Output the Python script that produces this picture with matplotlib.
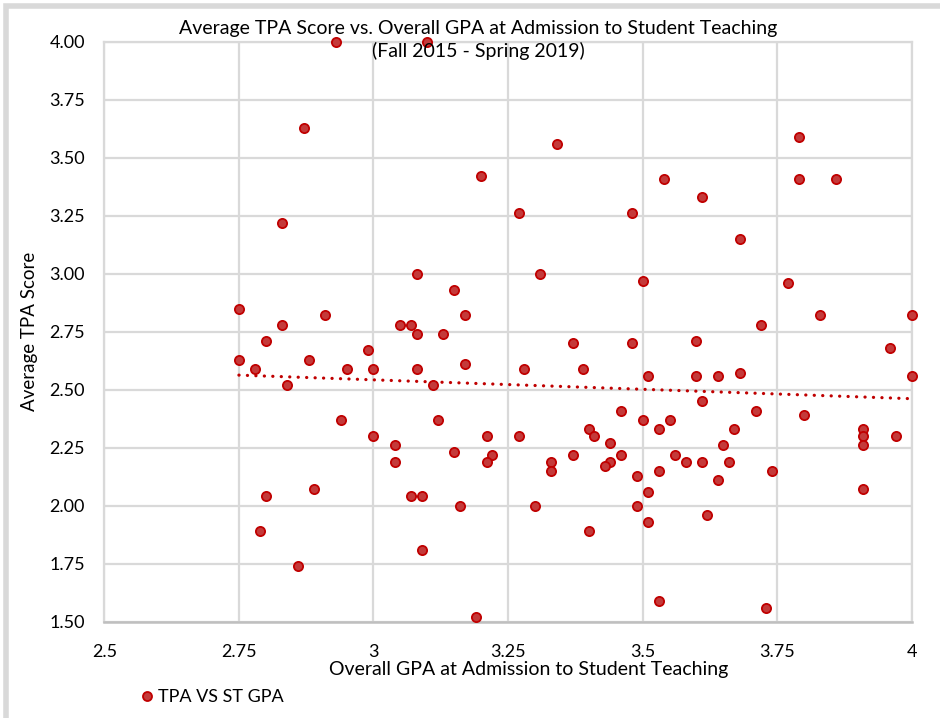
import numpy as np
import matplotlib

matplotlib.use("Agg")
import matplotlib.pyplot as plt
from matplotlib.lines import Line2D
from matplotlib.patches import Rectangle

# overall GPA at admission to student teaching vs. average TPA score
gpa = [
    2.75, 2.75, 2.78, 2.80, 2.83, 2.83, 2.87, 2.93, 3.10, 3.08,
    2.91, 3.05, 3.07, 3.08, 3.13, 2.99, 2.88, 2.95, 3.00, 3.08,
    2.84, 3.11, 2.94, 3.12, 3.00, 3.04, 3.04, 2.80, 2.89, 3.07,
    3.09, 2.79, 3.09, 2.86, 3.34, 3.20, 3.54, 3.27, 3.48, 3.31,
    3.50, 3.15, 3.17, 3.37, 3.48, 3.17, 3.28, 3.39, 3.51, 3.46,
    3.50, 3.55, 3.40, 3.53, 3.21, 3.27, 3.41, 3.44, 3.15, 3.22,
    3.37, 3.46, 3.56, 3.21, 3.33, 3.44, 3.43, 3.33, 3.58, 3.49,
    3.53, 3.51, 3.16, 3.30, 3.49, 3.51, 3.40, 3.53, 3.19, 3.79,
    3.79, 3.86, 3.61, 3.68, 3.77, 3.83, 4.00, 3.72, 3.60, 3.96,
    3.60, 3.64, 3.68, 4.00, 3.61, 3.71, 3.80, 3.67, 3.91, 3.91,
    3.97, 3.91, 3.65, 3.61, 3.66, 3.74, 3.64, 3.91, 3.62, 3.73,
]
tpa = [
    2.85, 2.63, 2.59, 2.71, 2.78, 3.22, 3.63, 4.00, 4.00, 3.00,
    2.82, 2.78, 2.78, 2.74, 2.74, 2.67, 2.63, 2.59, 2.59, 2.59,
    2.52, 2.52, 2.37, 2.37, 2.30, 2.26, 2.19, 2.04, 2.07, 2.04,
    2.04, 1.89, 1.81, 1.74, 3.56, 3.42, 3.41, 3.26, 3.26, 3.00,
    2.97, 2.93, 2.82, 2.70, 2.70, 2.61, 2.59, 2.59, 2.56, 2.41,
    2.37, 2.37, 2.33, 2.33, 2.30, 2.30, 2.30, 2.27, 2.23, 2.22,
    2.22, 2.22, 2.22, 2.19, 2.19, 2.19, 2.17, 2.15, 2.19, 2.13,
    2.15, 2.06, 2.00, 2.00, 2.00, 1.93, 1.89, 1.59, 1.52, 3.59,
    3.41, 3.41, 3.33, 3.15, 2.96, 2.82, 2.82, 2.78, 2.71, 2.68,
    2.56, 2.56, 2.57, 2.56, 2.45, 2.41, 2.39, 2.33, 2.33, 2.30,
    2.30, 2.26, 2.26, 2.19, 2.19, 2.15, 2.11, 2.07, 1.96, 1.56,
]

x_ticks = [2.5, 2.75, 3, 3.25, 3.5, 3.75, 4]
x_tick_labels = ["2.5", "2.75", "3", "3.25", "3.5", "3.75", "4"]
y_ticks = [1.5, 1.75, 2.0, 2.25, 2.5, 2.75, 3.0, 3.25, 3.5, 3.75, 4.0]

plt.rcParams["font.family"] = ["Lato", "DejaVu Sans"]

RED_FILL = "#C43A3A"
RED_EDGE = "#C00000"
GRID = "#D9D9D9"

fig = plt.figure(figsize=(9.4, 7.18), dpi=100)
ax = fig.add_axes([0.111, 0.1341, 0.859, 0.8078])

ax.scatter(gpa, tpa, s=44, c=RED_FILL, edgecolors=RED_EDGE, linewidths=1.3,
           zorder=3, clip_on=False)

# linear trend line like Excel's
slope, intercept = np.polyfit(gpa, tpa, 1)
tx = np.array([min(gpa), max(gpa)])
ax.plot(tx, slope * tx + intercept, color=RED_EDGE, lw=2.3,
        linestyle=(0, (0.05, 2.6)), dash_capstyle="round", zorder=2)

ax.set_xlim(2.5, 4)
ax.set_ylim(1.5, 4)
ax.set_xticks(x_ticks)
ax.set_xticklabels(x_tick_labels)
ax.set_yticks(y_ticks)
ax.set_yticklabels([f"{v:.2f}" for v in y_ticks])
ax.tick_params(length=0, labelsize=13, colors="#000000")
ax.tick_params(axis="y", pad=14)
ax.tick_params(axis="x", pad=16)
ax.grid(True, color=GRID, lw=1.6, zorder=0)
ax.set_axisbelow(True)
for side in ["top", "right", "left"]:
    ax.spines[side].set_color(GRID)
    ax.spines[side].set_linewidth(1.6)
ax.spines["bottom"].set_color("#BFBFBF")
ax.spines["bottom"].set_linewidth(1.8)

ax.set_xlabel("Overall GPA at Admission to Student Teaching", fontsize=14,
              labelpad=1)
ax.xaxis.label.set_x(0.525)
ax.set_ylabel("Average TPA Score", fontsize=13.5, labelpad=8)

fig.text(0.509, 0.944, "Average TPA Score vs. Overall GPA at Admission to Student Teaching\n(Fall 2015 - Spring 2019)",
         ha="center", va="center", fontsize=14, linespacing=1.3)

handle = Line2D([], [], marker="o", ls="none", markersize=6.5,
                markerfacecolor=RED_FILL, markeredgecolor=RED_EDGE,
                markeredgewidth=1.3)
fig.legend([handle], ["TPA VS ST GPA"], loc="center left",
           bbox_to_anchor=(0.151, 0.029), frameon=False, fontsize=13,
           handlelength=0.6, handletextpad=0.3, borderpad=0, borderaxespad=0)

# chart border (cropped on the right and bottom)
fig.patches.append(Rectangle((0.006, -0.1), 1.2, 1.092, transform=fig.transFigure,
                             fill=False, edgecolor=GRID, lw=4))

fig.savefig("out.png", dpi=100)
